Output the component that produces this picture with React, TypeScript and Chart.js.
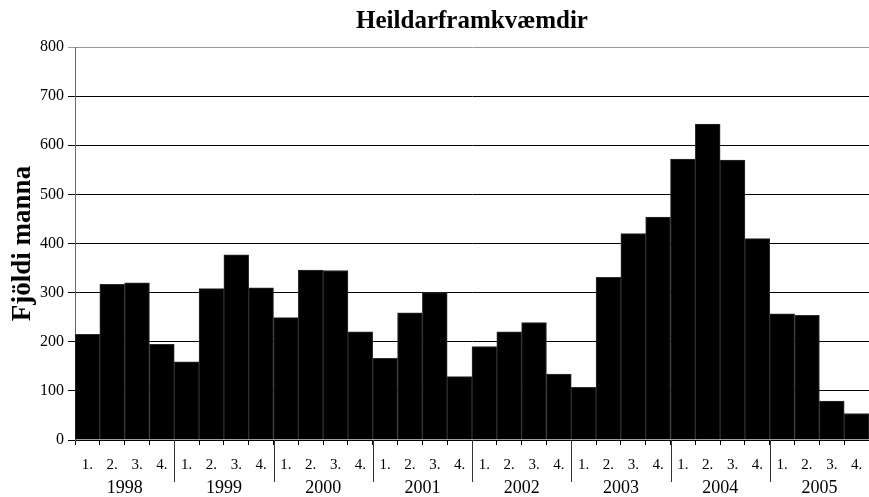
import React, { useEffect, useRef } from "react";
import { Chart, registerables } from "chart.js";

Chart.register(...registerables);

const titleText = "Heildarframkvæmdir";
const yAxisTitle = "Fjöldi manna";
const years = ["1998", "1999", "2000", "2001", "2002", "2003", "2004", "2005"];
const quarters = ["1.", "2.", "3.", "4."];
const values = [
  215, 317, 320, 195,
  159, 308, 377, 310,
  249, 346, 345, 220,
  166, 259, 300, 129,
  190, 220, 239, 134,
  107, 331, 420, 454,
  572, 643, 570, 410,
  257, 254, 79, 54,
];
const yMin = 0;
const yMax = 800;
const yStep = 100;

const SERIF = "'Liberation Serif', 'Times New Roman', Times, serif";

const categories = years.flatMap((y) => quarters.map((q) => `${y} ${q}`));

const yearPlugin = {
  id: "yearLabels",
  afterDraw(chart: any) {
    const ctx = chart.ctx;
    const xs = chart.scales.x;
    const bottom = chart.chartArea.bottom;
    const half = (xs.getPixelForValue(1) - xs.getPixelForValue(0)) / 2;
    ctx.save();
    ctx.strokeStyle = "#333";
    ctx.lineWidth = 1;
    for (let i = 1; i < years.length; i++) {
      const x = Math.round(xs.getPixelForValue(i * quarters.length) - half) + 0.5;
      ctx.beginPath();
      ctx.moveTo(x, bottom);
      ctx.lineTo(x, bottom + 42);
      ctx.stroke();
    }
    ctx.fillStyle = "#000";
    ctx.font = `18px ${SERIF}`;
    ctx.textAlign = "center";
    ctx.textBaseline = "alphabetic";
    years.forEach((y, i) => {
      const a = xs.getPixelForValue(i * quarters.length);
      const b = xs.getPixelForValue(i * quarters.length + quarters.length - 1);
      ctx.fillText(y, (a + b) / 2, bottom + 53);
    });
    ctx.restore();
  },
};

export default function App() {
  const ref = useRef<HTMLCanvasElement>(null);
  useEffect(() => {
    if (!ref.current) return;
    const chart = new Chart(ref.current, {
      type: "bar",
      data: {
        labels: categories,
        datasets: [
          {
            data: values,
            backgroundColor: "#000",
            borderColor: "#2e2e2e",
            borderWidth: 1,
            borderSkipped: "bottom",
            categoryPercentage: 1,
            barPercentage: 1,
          },
        ],
      },
      options: {
        animation: false,
        responsive: false,
        layout: { padding: 0 },
        plugins: {
          legend: { display: false },
          tooltip: { enabled: false },
          title: {
            display: true,
            text: titleText,
            fullSize: false,
            color: "#000",
            font: { family: SERIF, size: 25, weight: "bold", lineHeight: 1.2 },
            padding: { top: 7, bottom: 10 },
          },
        },
        scales: {
          x: {
            afterFit: (s: any) => {
              s.height = 57;
              s.paddingLeft = 0;
              s.paddingRight = 0;
            },
            grid: {
              display: true,
              drawOnChartArea: false,
              offset: true,
              tickLength: 5,
              color: "#000",
            },
            border: { display: true, color: "#000" },
            ticks: {
              color: "#000",
              font: { family: SERIF, size: 15 },
              padding: 11,
              maxRotation: 0,
              autoSkip: false,
              callback: (_v: any, i: number) => quarters[i % quarters.length],
            },
          },
          y: {
            min: yMin,
            max: yMax,
            afterFit: (s: any) => {
              s.width = 75;
              s.paddingTop = 0;
              s.paddingBottom = 0;
            },
            grid: {
              color: (c: any) => (c.tick && c.tick.value === yMax ? "#999" : "#000"),
              tickLength: 7,
            },
            border: { display: true, color: "#666" },
            ticks: {
              stepSize: yStep,
              color: "#000",
              font: { family: SERIF, size: 16 },
              padding: 4,
            },
            title: {
              display: true,
              text: yAxisTitle,
              color: "#000",
              font: { family: SERIF, size: 27, weight: "bold", lineHeight: 1.2 },
              padding: { top: 7, bottom: 0 },
            },
          },
        },
      },
      plugins: [yearPlugin],
    });
    return () => chart.destroy();
  }, []);
  return (
    <div style={{ position: "absolute", left: 0, top: 0, width: 869, height: 497, background: "#fff" }}>
      <canvas ref={ref} width={869} height={497} />
    </div>
  );
}
